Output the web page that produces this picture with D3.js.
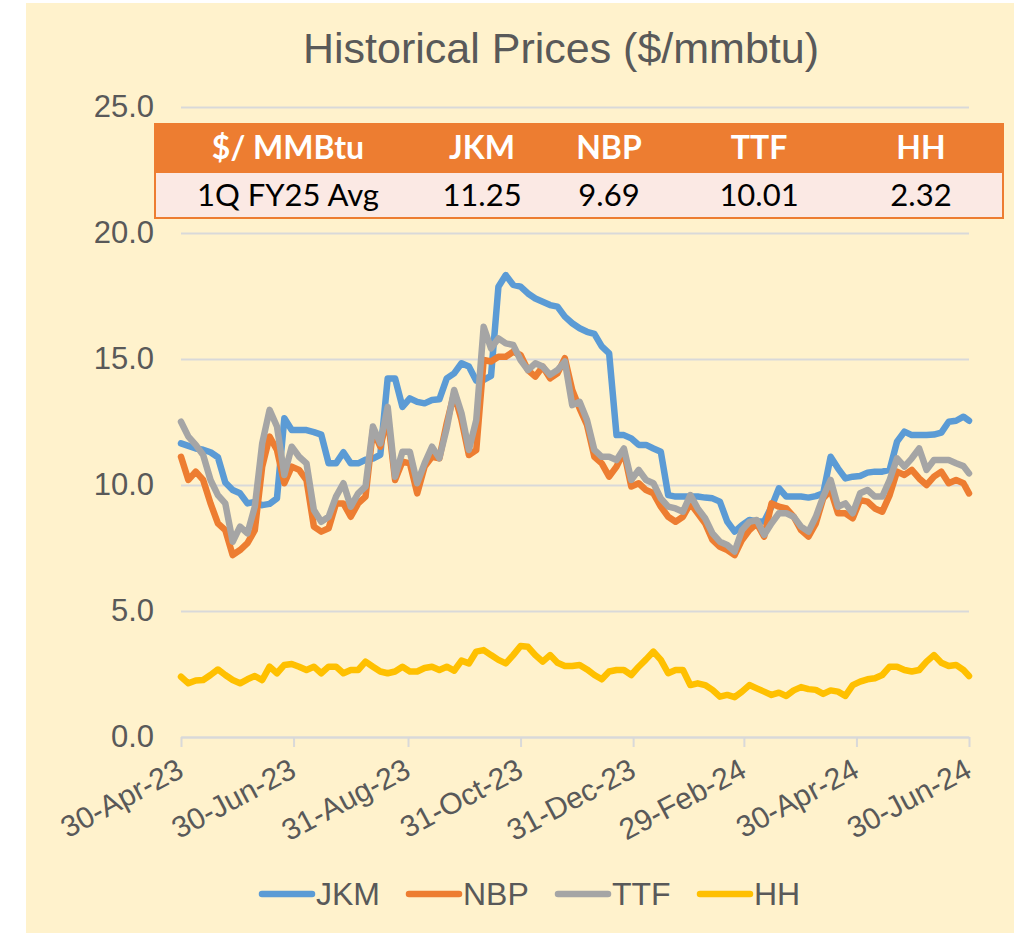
<!DOCTYPE html>
<html>
<head>
<meta charset="utf-8">
<script src="https://cdn.jsdelivr.net/npm/d3@7"></script>
<style>
  body { margin: 0; background: #ffffff; }
  svg { display: block; }
</style>
</head>
<body>
<div class="graph"></div>
<script>
(() => {
// price series, $/mmbtu
var dates = ['2023-04-30','2023-05-04','2023-05-08','2023-05-12','2023-05-16','2023-05-20','2023-05-24','2023-05-28',
  '2023-06-01','2023-06-05','2023-06-09','2023-06-13','2023-06-17','2023-06-21','2023-06-25','2023-06-29',
  '2023-07-03','2023-07-07','2023-07-11','2023-07-15','2023-07-19','2023-07-23','2023-07-27','2023-07-31',
  '2023-08-04','2023-08-08','2023-08-12','2023-08-16','2023-08-20','2023-08-24','2023-08-28','2023-09-01',
  '2023-09-05','2023-09-09','2023-09-13','2023-09-17','2023-09-21','2023-09-25','2023-09-29','2023-10-03',
  '2023-10-07','2023-10-11','2023-10-15','2023-10-19','2023-10-23','2023-10-27','2023-10-31','2023-11-04',
  '2023-11-08','2023-11-12','2023-11-16','2023-11-20','2023-11-24','2023-11-28','2023-12-02','2023-12-06',
  '2023-12-10','2023-12-14','2023-12-18','2023-12-22','2023-12-26','2023-12-30','2024-01-03','2024-01-07',
  '2024-01-11','2024-01-15','2024-01-19','2024-01-23','2024-01-27','2024-01-31','2024-02-04','2024-02-08',
  '2024-02-12','2024-02-16','2024-02-20','2024-02-24','2024-02-28','2024-03-03','2024-03-07','2024-03-11',
  '2024-03-15','2024-03-19','2024-03-23','2024-03-27','2024-03-31','2024-04-04','2024-04-08','2024-04-12',
  '2024-04-16','2024-04-20','2024-04-24','2024-04-28','2024-05-02','2024-05-06','2024-05-10','2024-05-14',
  '2024-05-18','2024-05-22','2024-05-26','2024-05-30','2024-06-03','2024-06-07','2024-06-11','2024-06-15',
  '2024-06-19','2024-06-23','2024-06-27','2024-06-30'];

var jkm = [11.65,11.55,11.45,11.4,11.3,11.1,10.1,9.8,9.67,9.27,9.33,9.2,9.25,9.47,12.65,12.18,
  12.18,12.18,12.1,12.0,10.86,10.86,11.3,10.86,10.86,11.0,11.05,11.2,14.23,14.23,13.1,13.44,
  13.3,13.24,13.37,13.4,14.23,14.43,14.83,14.7,14.14,14.17,14.33,17.87,18.33,17.94,17.87,17.6,
  17.4,17.27,17.14,17.08,16.68,16.42,16.22,16.08,16.0,15.5,15.22,11.98,11.98,11.85,11.59,11.59,
  11.45,11.32,9.6,9.54,9.54,9.54,9.54,9.5,9.47,9.34,8.55,8.15,8.41,8.61,8.55,8.55,
  9.14,9.87,9.54,9.54,9.54,9.5,9.56,9.67,11.12,10.66,10.26,10.33,10.36,10.49,10.53,10.53,
  10.6,11.72,12.12,11.98,11.98,11.98,12.0,12.08,12.51,12.55,12.71,12.55];

var nbp = [11.12,10.2,10.53,10.2,9.27,8.48,8.21,7.22,7.42,7.69,8.21,10.73,11.92,11.39,10.07,10.73,
  10.6,10.2,8.35,8.15,8.28,9.27,9.27,8.74,9.27,9.54,12.18,11.52,12.71,10.2,10.93,10.86,
  9.67,10.73,11.12,11.06,12.45,13.63,12.58,11.19,11.39,14.96,14.9,15.09,15.09,15.29,15.16,14.56,
  14.3,14.7,14.23,14.43,15.03,13.77,13.04,12.38,11.12,10.86,10.33,10.73,11.32,9.94,10.07,9.8,
  9.67,9.14,8.74,8.54,8.74,9.27,8.88,8.48,7.82,7.55,7.42,7.22,7.82,8.21,8.48,7.95,
  9.27,9.14,9.07,8.74,8.21,7.95,8.48,9.47,9.8,8.88,8.88,8.68,9.4,9.34,9.07,8.94,
  9.6,10.53,10.4,10.6,10.26,10.0,10.33,10.53,10.07,10.2,10.07,9.67];

var ttf = [12.51,11.92,11.59,11.19,10.2,9.6,9.27,7.75,8.35,8.08,9.14,11.65,12.98,12.32,10.4,11.52,
  11.12,10.86,9.01,8.54,8.74,9.54,10.07,9.14,9.67,9.94,12.32,11.65,13.1,10.33,11.32,11.32,
  10.07,10.86,11.52,11.06,12.25,13.77,12.85,11.39,12.58,16.28,15.42,15.82,15.62,15.56,14.96,14.56,
  14.83,14.7,14.37,14.56,14.9,13.17,13.3,12.58,11.39,11.12,11.12,10.99,11.45,10.2,10.6,10.2,
  10.07,9.47,9.14,9.07,8.94,9.6,9.07,8.68,8.08,7.75,7.62,7.36,8.21,8.54,8.61,8.02,
  8.48,8.88,8.88,8.74,8.35,8.15,8.74,9.54,10.2,9.14,9.27,8.88,9.67,9.8,9.54,9.54,
  10.2,11.06,10.73,11.06,11.45,10.6,10.99,10.99,10.99,10.86,10.75,10.46];

var hh = [2.39,2.13,2.24,2.26,2.46,2.68,2.46,2.26,2.13,2.29,2.42,2.26,2.79,2.53,2.86,2.9,
  2.79,2.66,2.79,2.53,2.79,2.79,2.53,2.66,2.66,2.99,2.79,2.6,2.53,2.6,2.79,2.6,
  2.6,2.74,2.79,2.66,2.79,2.63,3.03,2.92,3.39,3.45,3.25,3.06,2.92,3.25,3.61,3.58,
  3.25,2.99,3.25,2.95,2.82,2.82,2.86,2.68,2.46,2.29,2.6,2.66,2.66,2.46,2.79,3.08,
  3.39,3.06,2.53,2.66,2.66,2.06,2.13,2.06,1.87,1.6,1.67,1.58,1.8,2.06,1.93,1.8,
  1.67,1.76,1.63,1.85,1.98,1.9,1.87,1.71,1.85,1.8,1.63,2.06,2.2,2.29,2.33,2.46,
  2.79,2.79,2.66,2.6,2.66,2.99,3.25,2.95,2.82,2.86,2.66,2.42];

var seriesNames = ['JKM', 'NBP', 'TTF', 'HH'];
var yTicks = [0, 5, 10, 15, 20, 25];
var xTicks = ['2023-04-30','2023-06-30','2023-08-31','2023-10-31','2023-12-31','2024-02-29','2024-04-30','2024-06-30'];
var tableHead = ['$/ MMBtu', 'JKM', 'NBP', 'TTF', 'HH'];
var tableRow = ['1Q FY25 Avg', '11.25', '9.69', '10.01', '2.32'];

var width = 1014,
    height = 934,
    plot = {left: 181, right: 969, top: 107, bottom: 737};

var colors = ['#5b9bd5', '#ed7d31', '#a5a5a5', '#ffc000'];
var font = '"Liberation Sans", Arial, sans-serif';
var textColor = '#595959';

var parse = d3.timeParse('%Y-%m-%d');
var series = [jkm, nbp, ttf, hh].map((vals, k) => ({
    name: seriesNames[k],
    color: colors[k],
    values: vals.map((v, i) => ({date: parse(dates[i]), value: v}))
}));

var svg = d3.select('div.graph')
    .append('svg')
        .attr('width', width)
        .attr('height', height);

svg.append('rect')
    .attr('x', 26).attr('y', 3)
    .attr('width', width - 26).attr('height', 930)
    .attr('fill', '#fff2cc');

svg.append('text')
    .attr('x', 561).attr('y', 63)
    .attr('text-anchor', 'middle')
    .style('font-family', font)
    .style('font-size', '43px')
    .attr('fill', textColor)
    .text('Historical Prices ($/mmbtu)');

var x = d3.scaleTime()
    .domain([parse(dates[0]), parse(dates[dates.length - 1])])
    .range([plot.left, plot.right]);

var y = d3.scaleLinear()
    .domain([0, 25])
    .range([plot.bottom, plot.top]);

// gridlines + y labels
var yAxis = svg.append('g')
    .attr('transform', 'translate(' + plot.left + ',0)')
    .call(d3.axisLeft(y).tickValues(yTicks).tickFormat(d3.format('.1f'))
        .tickSize(-(plot.right - plot.left)).tickPadding(27));
yAxis.select('.domain').remove();
yAxis.selectAll('.tick line').attr('stroke', '#d9d9d9').attr('stroke-width', 2);
yAxis.selectAll('.tick text')
    .style('font-family', font)
    .style('font-size', '31px')
    .attr('fill', textColor);

// x axis
var xAxis = svg.append('g')
    .attr('transform', 'translate(0,' + plot.bottom + ')')
    .call(d3.axisBottom(x).tickValues(xTicks.map(parse)).tickFormat(d3.timeFormat('%d-%b-%y'))
        .tickSize(10).tickSizeOuter(0));
xAxis.select('.domain').attr('stroke', '#d9d9d9').attr('stroke-width', 2);
xAxis.selectAll('.tick line').attr('stroke', '#d9d9d9').attr('stroke-width', 2);
xAxis.selectAll('.tick text')
    .style('font-family', font)
    .style('font-size', '30px')
    .attr('fill', textColor)
    .attr('text-anchor', 'end')
    .attr('y', 0)
    .attr('dy', '0.71em')
    .attr('transform', 'translate(-6,20) rotate(-28)');

var line = d3.line()
    .x((d) => x(d.date))
    .y((d) => y(d.value));

svg.append('g')
    .selectAll('path')
    .data(series)
    .enter()
    .append('path')
        .attr('d', (d) => line(d.values))
        .attr('fill', 'none')
        .attr('stroke', (d) => d.color)
        .attr('stroke-width', 6.5)
        .attr('stroke-linejoin', 'round')
        .attr('stroke-linecap', 'round');

// summary table
var table = {left: 155, right: 1003, top: 123, mid: 172, bottom: 218};
var colX = [288, 482, 609, 759, 921];
var tfont = 'Lato, "Open Sans", sans-serif';

svg.append('rect')
    .attr('x', table.left).attr('y', table.mid)
    .attr('width', table.right - table.left).attr('height', table.bottom - table.mid)
    .attr('fill', '#fbe9e4')
    .attr('stroke', '#ed7d31')
    .attr('stroke-width', 2);
svg.append('rect')
    .attr('x', table.left - 1).attr('y', table.top)
    .attr('width', table.right - table.left + 2).attr('height', table.mid - table.top)
    .attr('fill', '#ed7d31');

svg.append('g')
    .selectAll('text')
    .data(tableHead)
    .enter()
    .append('text')
        .attr('x', (d, i) => colX[i])
        .attr('y', 159)
        .attr('text-anchor', 'middle')
        .style('font-family', tfont)
        .style('font-weight', 'bold')
        .style('font-size', '32px')
        .attr('fill', '#ffffff')
        .text((d) => d);

svg.append('g')
    .selectAll('text')
    .data(tableRow)
    .enter()
    .append('text')
        .attr('x', (d, i) => colX[i])
        .attr('y', 206)
        .attr('text-anchor', 'middle')
        .style('font-family', tfont)
        .style('font-size', '31px')
        .attr('fill', '#000000')
        .text((d) => d);

// legend
var legendX = [259, 406, 555, 697];
var legend = svg.append('g')
    .selectAll('g')
    .data(series)
    .enter()
    .append('g')
        .attr('transform', (d, i) => 'translate(' + legendX[i] + ',894)');
legend.append('line')
    .attr('x1', 3).attr('x2', 53)
    .attr('stroke', (d) => d.color)
    .attr('stroke-width', 6.5)
    .attr('stroke-linecap', 'round');
legend.append('text')
    .attr('x', 57)
    .attr('dy', '0.35em')
    .style('font-family', font)
    .style('font-size', '32px')
    .attr('fill', textColor)
    .text((d) => d.name);
})();
</script>
</body>
</html>
